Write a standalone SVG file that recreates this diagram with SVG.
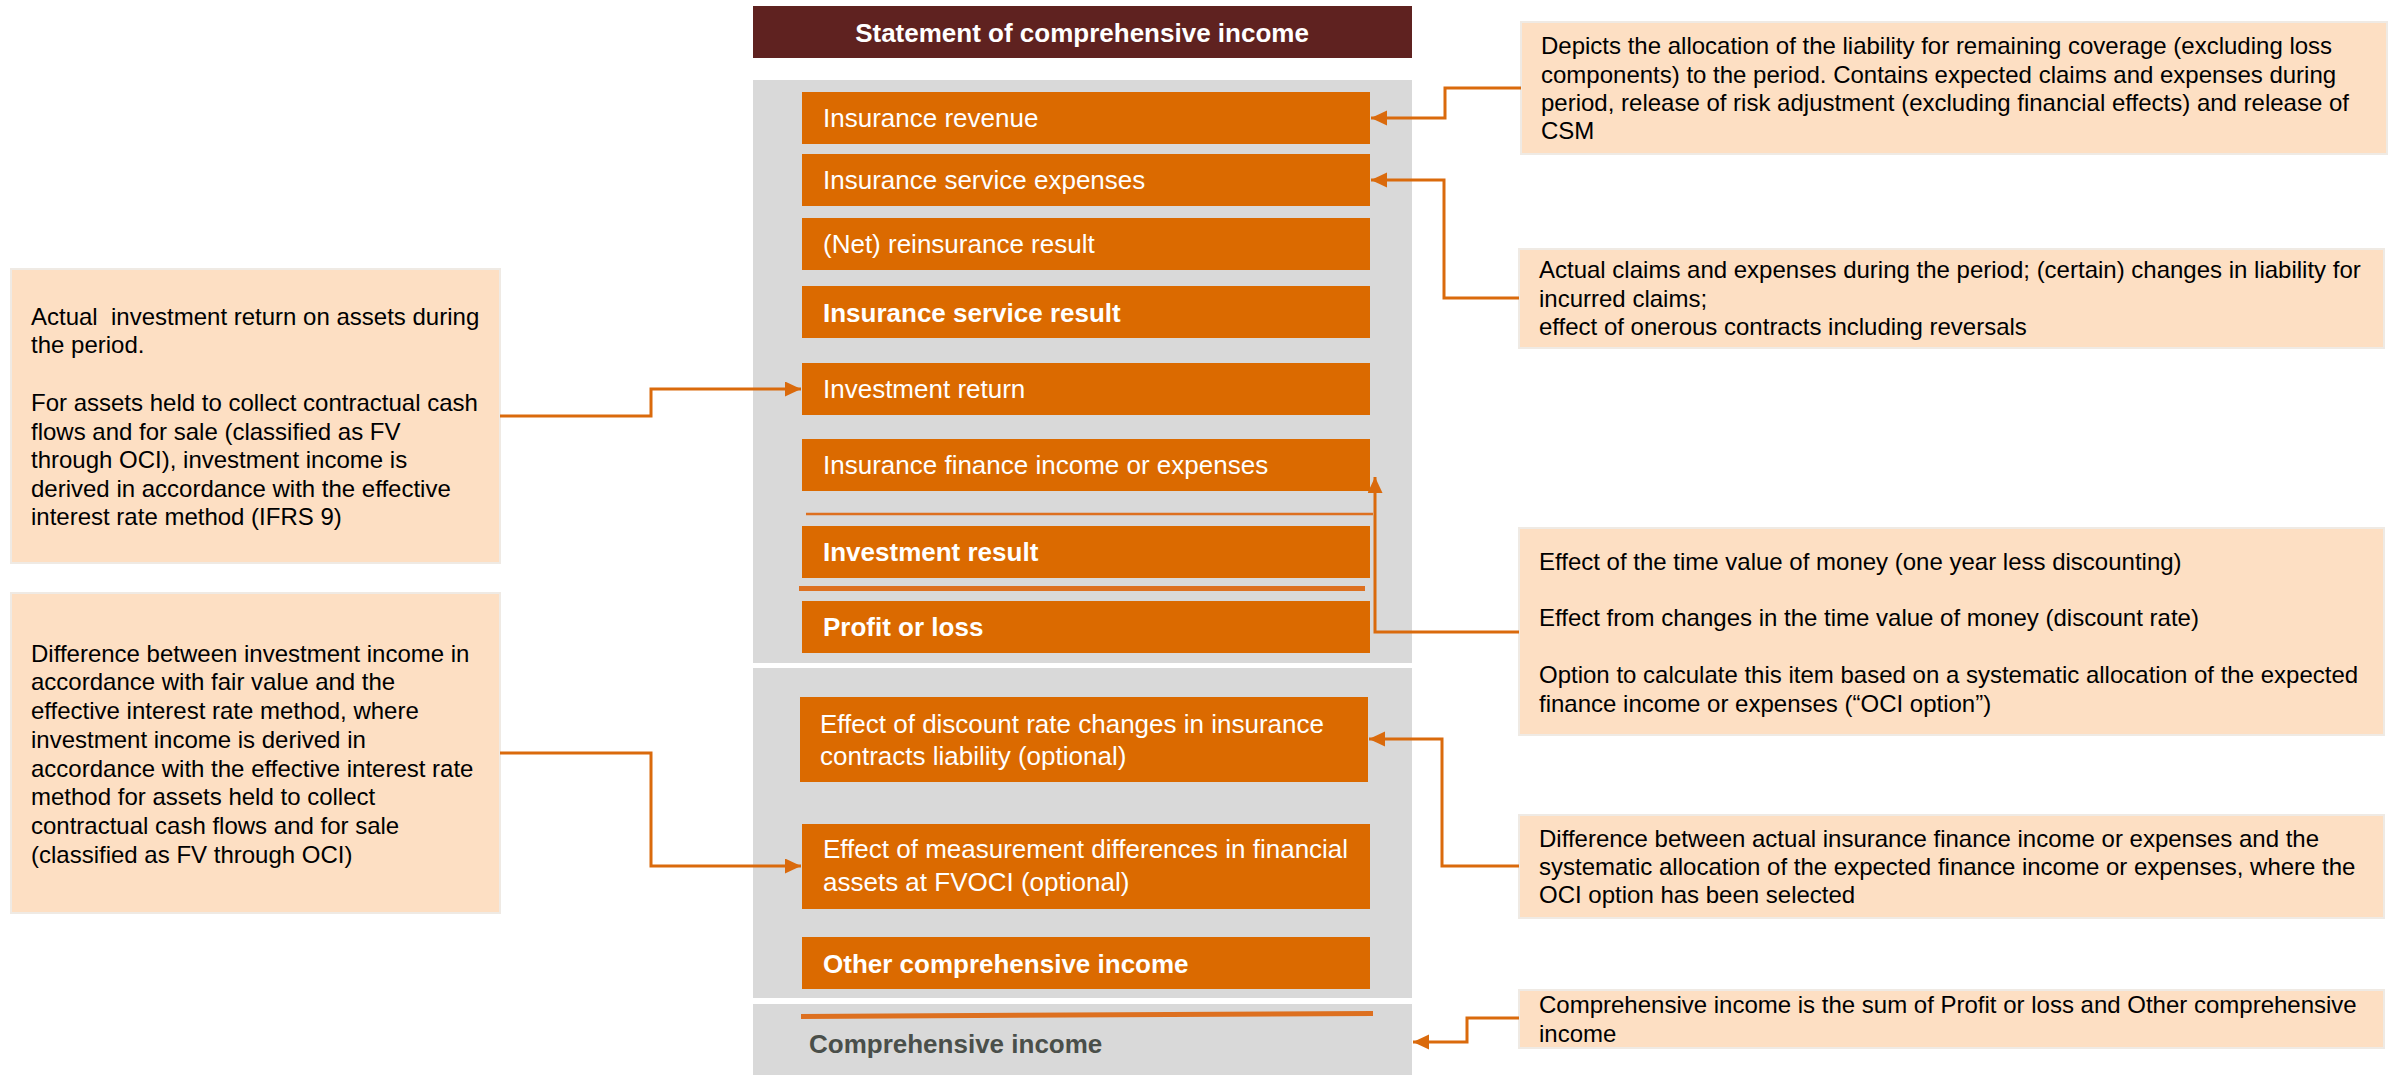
<svg xmlns="http://www.w3.org/2000/svg" width="2400" height="1075" viewBox="0 0 2400 1075">
<defs>
<style>
.panel{fill:#D9D9D9}
.ob{fill:#DB6A00}
.desc{fill:#FDDFC3;stroke:#EFEAE4;stroke-width:2}
.bt{font-family:"Liberation Sans",Arial,sans-serif;font-size:26px;fill:#FFFFFF}
.bb{font-family:"Liberation Sans",Arial,sans-serif;font-size:26px;font-weight:bold;fill:#FFFFFF}
.dt{font-family:"Liberation Sans",Arial,sans-serif;font-size:24px;fill:#000000;white-space:pre}
.conn{fill:none;stroke:#DA6A0C;stroke-width:3}
.sep{stroke:#DD7020;fill:none}
</style>
<marker id="ah" markerUnits="userSpaceOnUse" markerWidth="17" markerHeight="16" refX="16" refY="7.5" orient="auto">
<path d="M0,0 L16,7.5 L0,15 z" fill="#DA6A0C"/>
</marker>
</defs>
<rect width="2400" height="1075" fill="#FFFFFF"/>

<g id="title">
<rect x="753" y="6" width="659" height="52" fill="#5F2220"/>
<text x="1082" y="42" text-anchor="middle" font-family="Liberation Sans, Arial, sans-serif" font-size="26" font-weight="bold" fill="#FFFFFF">Statement of comprehensive income</text>
</g>

<g id="panels">
<rect class="panel" x="753" y="80" width="659" height="583"/>
<rect class="panel" x="753" y="668" width="659" height="330"/>
<rect class="panel" x="753" y="1004" width="659" height="71"/>
</g>

<g id="separators">
<line class="sep" x1="806" y1="514" x2="1373" y2="514" stroke-width="2.5"/>
<line class="sep" x1="799" y1="588.5" x2="1365" y2="588.5" stroke-width="5"/>
<line class="sep" x1="801" y1="1016.5" x2="1373" y2="1013.5" stroke-width="5"/>
</g>

<g id="n-insurance-revenue"><rect class="ob" x="802" y="92" width="568" height="52"/><text class="bt" x="823" y="127">Insurance revenue</text></g>
<g id="n-insurance-service-expenses"><rect class="ob" x="802" y="154" width="568" height="52"/><text class="bt" x="823" y="189">Insurance service expenses</text></g>
<g id="n-net-reinsurance"><rect class="ob" x="802" y="218" width="568" height="52"/><text class="bt" x="823" y="253">(Net) reinsurance result</text></g>
<g id="n-insurance-service-result"><rect class="ob" x="802" y="286" width="568" height="52"/><text class="bb" x="823" y="322">Insurance service result</text></g>
<g id="n-investment-return"><rect class="ob" x="802" y="363" width="568" height="52"/><text class="bt" x="823" y="398">Investment return</text></g>
<g id="n-insurance-finance"><rect class="ob" x="802" y="439" width="568" height="52"/><text class="bt" x="823" y="474">Insurance finance income or expenses</text></g>
<g id="n-investment-result"><rect class="ob" x="802" y="526" width="568" height="52"/><text class="bb" x="823" y="561">Investment result</text></g>
<g id="n-profit-or-loss"><rect class="ob" x="802" y="601" width="568" height="52"/><text class="bb" x="823" y="636">Profit or loss</text></g>
<g id="n-discount-rate-changes"><rect class="ob" x="800" y="697" width="568" height="85"/><text class="bt" x="820" y="733">Effect of discount rate changes in insurance</text><text class="bt" x="820" y="765">contracts liability (optional)</text></g>
<g id="n-measurement-differences"><rect class="ob" x="802" y="824" width="568" height="85"/><text class="bt" x="823" y="858">Effect of measurement differences in financial</text><text class="bt" x="823" y="891">assets at FVOCI (optional)</text></g>
<g id="n-oci"><rect class="ob" x="802" y="937" width="568" height="52"/><text class="bb" x="823" y="973">Other comprehensive income</text></g>
<g id="n-comprehensive-income"><text x="809" y="1053" font-family="Liberation Sans, Arial, sans-serif" font-size="26" font-weight="bold" fill="#4A4F4A">Comprehensive income</text></g>

<g id="d-left-investment">
<rect class="desc" x="11" y="269" width="489" height="294"/>
<text class="dt" x="31" y="325">Actual  investment return on assets during</text>
<text class="dt" x="31" y="353">the period.</text>
<text class="dt" x="31" y="411">For assets held to collect contractual cash</text>
<text class="dt" x="31" y="440">flows and for sale (classified as FV</text>
<text class="dt" x="31" y="468">through OCI), investment income is</text>
<text class="dt" x="31" y="497">derived in accordance with the effective</text>
<text class="dt" x="31" y="525">interest rate method (IFRS 9)</text>
</g>

<g id="d-left-difference">
<rect class="desc" x="11" y="593" width="489" height="320"/>
<text class="dt" x="31" y="662">Difference between investment income in</text>
<text class="dt" x="31" y="690">accordance with fair value and the</text>
<text class="dt" x="31" y="719">effective interest rate method, where</text>
<text class="dt" x="31" y="748">investment income is derived in</text>
<text class="dt" x="31" y="777">accordance with the effective interest rate</text>
<text class="dt" x="31" y="805">method for assets held to collect</text>
<text class="dt" x="31" y="834">contractual cash flows and for sale</text>
<text class="dt" x="31" y="863">(classified as FV through OCI)</text>
</g>

<g id="d-right-revenue">
<rect class="desc" x="1521" y="22" width="866" height="132"/>
<text class="dt" x="1541" y="54">Depicts the allocation of the liability for remaining coverage (excluding loss</text>
<text class="dt" x="1541" y="83">components) to the period. Contains expected claims and expenses during</text>
<text class="dt" x="1541" y="111">period, release of risk adjustment (excluding financial effects) and release of</text>
<text class="dt" x="1541" y="139">CSM</text>
</g>

<g id="d-right-expenses">
<rect class="desc" x="1519" y="249" width="865" height="99"/>
<text class="dt" x="1539" y="278">Actual claims and expenses during the period; (certain) changes in liability for</text>
<text class="dt" x="1539" y="307">incurred claims;</text>
<text class="dt" x="1539" y="335">effect of onerous contracts including reversals</text>
</g>

<g id="d-right-finance">
<rect class="desc" x="1519" y="528" width="865" height="207"/>
<text class="dt" x="1539" y="570">Effect of the time value of money (one year less discounting)</text>
<text class="dt" x="1539" y="626">Effect from changes in the time value of money (discount rate)</text>
<text class="dt" x="1539" y="683">Option to calculate this item based on a systematic allocation of the expected</text>
<text class="dt" x="1539" y="712">finance income or expenses (“OCI option”)</text>
</g>

<g id="d-right-oci">
<rect class="desc" x="1519" y="815" width="865" height="103"/>
<text class="dt" x="1539" y="847">Difference between actual insurance finance income or expenses and the</text>
<text class="dt" x="1539" y="875">systematic allocation of the expected finance income or expenses, where the</text>
<text class="dt" x="1539" y="903">OCI option has been selected</text>
</g>

<g id="d-right-comprehensive">
<rect class="desc" x="1519" y="990" width="865" height="58"/>
<text class="dt" x="1539" y="1013">Comprehensive income is the sum of Profit or loss and Other comprehensive</text>
<text class="dt" x="1539" y="1042">income</text>
</g>

<g id="connectors">
<path class="conn" d="M1521,88 H1445 V118 H1371" marker-end="url(#ah)"/>
<path class="conn" d="M1519,298 H1444 V180 H1371" marker-end="url(#ah)"/>
<path class="conn" d="M500,416 H651 V389 H801" marker-end="url(#ah)"/>
<path class="conn" d="M1519,632 H1375 V477" marker-end="url(#ah)"/>
<path class="conn" d="M1519,866 H1442 V739 H1369" marker-end="url(#ah)"/>
<path class="conn" d="M500,753 H651 V866 H801" marker-end="url(#ah)"/>
<path class="conn" d="M1519,1018 H1467 V1042 H1413" marker-end="url(#ah)"/>
</g>
</svg>
